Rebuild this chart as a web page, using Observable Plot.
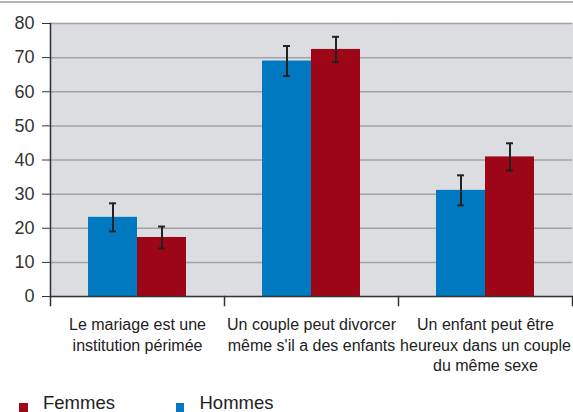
<!DOCTYPE html>
<html><head><meta charset="utf-8">
<script src="https://cdn.jsdelivr.net/npm/d3@7"></script>
<script src="https://cdn.jsdelivr.net/npm/@observablehq/plot@0.6"></script>
<style>
body{margin:0;background:#fff;font-family:"Liberation Sans",Arial,sans-serif;}
#wrap{position:relative;width:573px;height:412px;overflow:hidden;}
#topline{position:absolute;left:0;top:1px;width:573px;height:0;border-top:2px solid #b4b4b4;}
#chart{position:absolute;left:0;top:3px;}
#legend{position:absolute;left:0;top:393.5px;width:573px;height:18.5px;font-size:18.5px;line-height:18.5px;color:#222;}
#legend .sw{position:absolute;top:9.5px;width:8.5px;height:9px;}
#legend .lb{position:absolute;top:0;white-space:nowrap;}
</style></head><body>
<div id="wrap"><div id="topline"></div><div id="chart"></div><div id="legend"></div></div>
<script>
const questions = ["Le mariage est une institution périmée", "Un couple peut divorcer même s'il a des enfants", "Un enfant peut être heureux dans un couple du même sexe"];
const questionLabels = ["Le mariage est une\ninstitution périmée", "Un couple peut divorcer\nmême s'il a des enfants", "Un enfant peut être\nheureux dans un couple\ndu même sexe"];
const sexes = ["Hommes", "Femmes"];
const colors = ["#0079c1", "#9c0616"];
const hommes = [23.2, 69.0, 31.1];
const hommesErr = [4.1, 4.4, 4.4];
const femmes = [17.3, 72.4, 40.9];
const femmesErr = [3.2, 3.7, 4.0];
const yTicks = [0, 10, 20, 30, 40, 50, 60, 70, 80];
const legendOrder = ["Femmes", "Hommes"];

const rows = questions.flatMap((q, i) => [
  {question: q, sex: "Hommes", value: hommes[i], err: hommesErr[i]},
  {question: q, sex: "Femmes", value: femmes[i], err: femmesErr[i]}
]);

const W = 573, H = 390, mt = 20, mb = H - 293, ml = 49, mr = 1;
const plotH = H - mt - mb;

const chart = Plot.plot({
  width: W, height: H, marginTop: mt, marginBottom: mb, marginLeft: ml, marginRight: mr,
  style: {fontFamily: "Liberation Sans, Arial, sans-serif", color: "#222", background: "transparent"},
  fx: {domain: questions, padding: 0, axis: null},
  x: {domain: sexes, paddingInner: 0, paddingOuter: 0.746, axis: null},
  y: {domain: [0, 80]},
  color: {domain: sexes, range: colors},
  marks: [
    Plot.frame({fill: "#dcdde0", stroke: "#dcdde0", strokeWidth: 1.5}),
    Plot.ruleY(yTicks.filter(d => d > 0), {stroke: "#a3a3a3", strokeWidth: 1.5}),
    Plot.barY(rows, {fx: "question", x: "sex", y: "value", fill: "sex"}),
    Plot.ruleX(rows, {fx: "question", x: "sex", y1: d => d.value - d.err, y2: d => d.value + d.err, stroke: "#222", strokeWidth: 2}),
    Plot.tickY(rows, {fx: "question", x: "sex", y: d => d.value - d.err, stroke: "#222", strokeWidth: 2, insetLeft: 21, insetRight: 21}),
    Plot.tickY(rows, {fx: "question", x: "sex", y: d => d.value + d.err, stroke: "#222", strokeWidth: 2, insetLeft: 21, insetRight: 21}),
    Plot.ruleY([0], {stroke: "#333", strokeWidth: 1.5}),
    Plot.frame({anchor: "left", facetAnchor: "left", stroke: "#333", strokeWidth: 1.5, insetBottom: -9}),
    Plot.frame({anchor: "right", stroke: "#333", strokeWidth: 1.5, insetTop: plotH, insetBottom: -9}),
    Plot.axisY({ticks: yTicks, tickSize: 8, tickPadding: 8, fontSize: 18, color: "#333", label: null}),
    ...questions.map((q, i) => Plot.text([q], {
      fx: d => d, text: () => questionLabels[i], frameAnchor: "bottom", lineAnchor: "top",
      dy: 19.3, fontSize: 16, lineHeight: 1.28, fill: "#222"
    }))
  ]
});
document.getElementById("chart").appendChild(chart);

const legend = document.getElementById("legend");
const legendX = {Femmes: [19, 43], Hommes: [175.7, 199.5]};
legendOrder.forEach(s => {
  const sw = document.createElement("span");
  sw.className = "sw";
  sw.style.left = legendX[s][0] + "px";
  sw.style.background = colors[sexes.indexOf(s)];
  const lb = document.createElement("span");
  lb.className = "lb";
  lb.style.left = legendX[s][1] + "px";
  lb.textContent = s;
  legend.appendChild(sw);
  legend.appendChild(lb);
});
</script>
</body></html>
